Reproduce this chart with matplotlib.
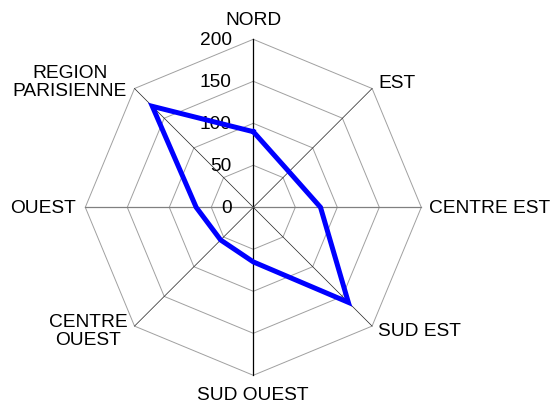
import numpy as np
import matplotlib
matplotlib.use('Agg')
import matplotlib.pyplot as plt

plt.rcParams['font.family'] = ['Liberation Sans', 'DejaVu Sans']

# Regions, clockwise from the top
regions = ['NORD', 'EST', 'CENTRE EST', 'SUD EST', 'SUD OUEST',
           'CENTRE\nOUEST', 'OUEST', 'REGION\nPARISIENNE']
values = [90, 60, 80, 160, 65, 55, 68, 170]
rings = [0, 50, 100, 150, 200]

n = len(regions)
angles = np.arange(n) * 2 * np.pi / n
closed_angles = np.append(angles, angles[0])

W, H = 553, 406
fig = plt.figure(figsize=(W / 100, H / 100), dpi=100)
cx, cy, rad = 253.3, 406 - 208.3, 168
ax = fig.add_axes([(cx - rad) / W, (cy - rad) / H, 2 * rad / W, 2 * rad / H],
                  projection='polar')
ax.set_theta_zero_location('N')
ax.set_theta_direction(-1)
ax.set_ylim(0, 200)
ax.set_axis_off()

# octagonal rings
for r in rings[1:]:
    ax.plot(closed_angles, [r] * (n + 1), color='#a0a0a0', lw=0.7,
            zorder=1, clip_on=False)

# spokes
for i, a in enumerate(angles):
    if i % 4 == 0:
        col, lw = 'black', 0.9
    elif i % 2 == 0:
        col, lw = '#808080', 0.9
    else:
        col, lw = '#202020', 0.5
    ax.plot([a, a], [0, 200], color=col, lw=lw, zorder=2, clip_on=False)

# scale labels along the north spoke
for r in rings:
    ax.annotate(str(r), xy=(0, r), xytext=(-15.5, 0), textcoords='offset points',
                ha='right', va='center', fontsize=13.8, zorder=3)

# region labels: (dx, dy) offsets in points, alignment
label_pos = [
    ((0, 14.5), 'center', 'center'),
    ((4.5, 4.2), 'left', 'center'),
    ((5.8, 0), 'left', 'center'),
    ((4.5, -3.3), 'left', 'center'),
    ((0, -13.5), 'center', 'center'),
    ((-4.8, -3.3), 'right', 'center'),
    ((-6.8, 0), 'right', 'center'),
    ((-5.4, 5.0), 'right', 'center'),
]
for a, name, (off, ha, va) in zip(angles, regions, label_pos):
    ax.annotate(name, xy=(a, 200), xytext=off, textcoords='offset points',
                ha=ha, va=va, multialignment='center', linespacing=1.12,
                fontsize=13.8, zorder=3)

# data polygon
ax.plot(closed_angles, values + values[:1], color='#0000ff', lw=3.6,
        solid_joinstyle='miter', zorder=5, clip_on=False)

fig.savefig('out.png', dpi=100)
